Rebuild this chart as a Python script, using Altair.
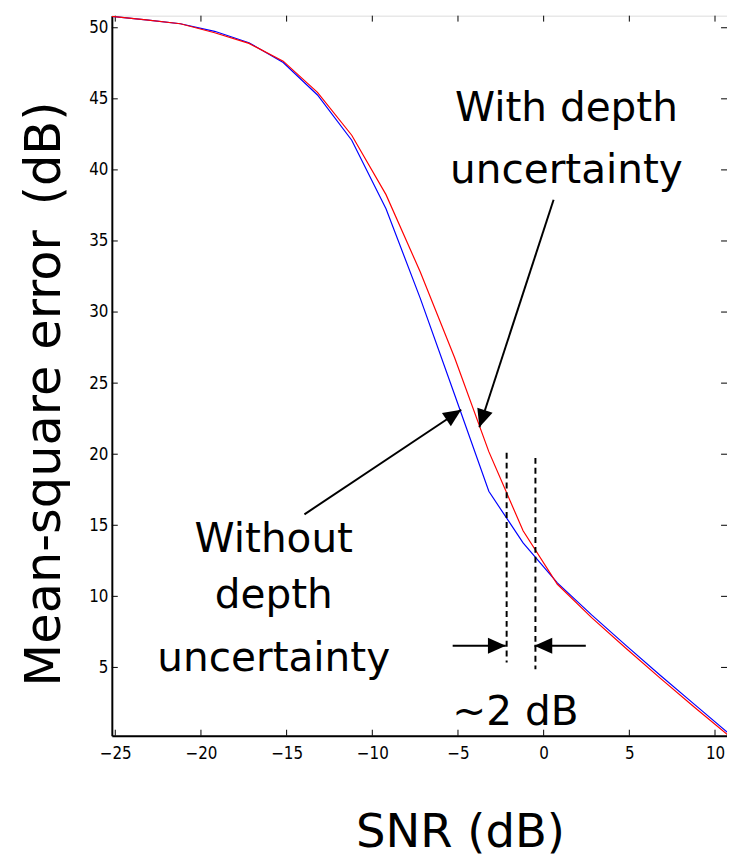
import altair as alt
import pandas as pd

# ---- data ----
snr_db = [-25.2, -23.2, -21.2, -19.2, -17.2, -15.2, -13.2, -11.2, -9.2, -7.2,
          -5.2, -3.2, -1.2, 0.8, 2.8, 4.8, 6.8, 8.8, 10.8]
mse_without = [50.8, 50.55, 50.28, 49.75, 48.95, 47.55, 45.27, 42.09, 37.27, 30.96,
               24.2, 17.39, 13.76, 10.95, 8.7, 6.55, 4.45, 2.4, 0.35]
mse_with = [50.8, 50.55, 50.28, 49.65, 48.9, 47.65, 45.46, 42.44, 38.26, 32.82,
            26.8, 20.18, 14.61, 10.85, 8.5, 6.35, 4.25, 2.2, 0.2]

x_ticks = [-25, -20, -15, -10, -5, 0, 5, 10]
y_ticks = [5, 10, 15, 20, 25, 30, 35, 40, 45, 50]
x_domain = [-25.2, 10.7]
y_domain = [0.2, 50.85]

label_text = ["With depth", "uncertainty", "Without", "depth", "uncertainty", "~2 dB"]
label_x = [1.33, 1.33, -15.75, -15.75, -15.75, -1.65]
label_y = [43.46, 39.08, 13.15, 9.17, 4.78, 0.96]

arrow_x_start = [0.58, -13.96, -5.31, 2.46]
arrow_y_start = [37.9, 15.77, 6.52, 6.52]
arrow_x_end = [-3.75, -4.81, -2.21, -0.54]
arrow_y_end = [21.9, 23.13, 6.52, 6.52]
arrow_angle = [198.1, 56.3, 90, 270]

dash_x = [-2.16, -0.48]
dash_y_top = [20.1, 19.74]
dash_y_bottom = [5.34, 4.87]

W, H = 622, 728
BIG_FONT = "DejaVu Sans"
TICK_FONT = "Liberation Sans Narrow, DejaVu Sans Condensed, Liberation Sans, Arial"

# ---- tables ----
df_without = pd.DataFrame({"x": snr_db, "y": mse_without})
df_with = pd.DataFrame({"x": snr_db, "y": mse_with})
df_labels = pd.DataFrame({"x": label_x, "y": label_y, "t": label_text})
df_arrows = pd.DataFrame({"x": arrow_x_start, "y": arrow_y_start,
                          "x2": arrow_x_end, "y2": arrow_y_end})
df_heads = pd.DataFrame({"x": arrow_x_end, "y": arrow_y_end, "a": arrow_angle})
df_dash = pd.DataFrame({"x": dash_x, "y": dash_y_top, "y2": dash_y_bottom})
df_xt = pd.DataFrame({"x": x_ticks})
df_yt = pd.DataFrame({"y": y_ticks})

xscale = alt.Scale(domain=x_domain, nice=False, zero=False)
yscale = alt.Scale(domain=y_domain, nice=False, zero=False)

x_axis = alt.Axis(values=x_ticks, format="d", title="SNR (dB)", grid=False, ticks=False,
                  domain=True, domainColor="black", domainWidth=2,
                  labelFont=TICK_FONT, labelFontSize=17, labelColor="black", labelPadding=10,
                  titleFont=BIG_FONT, titleFontSize=47, titleFontWeight="normal",
                  titleColor="black", titleX=352, titleY=112, titleBaseline="alphabetic",
                  titleAlign="center")
y_axis = alt.Axis(values=y_ticks, format="d", title="Mean-square error\u2002(dB)", grid=False,
                  ticks=False, domain=True, domainColor="black", domainWidth=2,
                  labelFont=TICK_FONT, labelFontSize=17, labelColor="black", labelPadding=4,
                  titleFont=BIG_FONT, titleFontSize=50, titleFontWeight="normal",
                  titleColor="black", titleAngle=270, titleX=-53, titleY=382,
                  titleBaseline="alphabetic", titleAlign="center")

X = alt.X("x:Q", scale=xscale, axis=x_axis)
Y = alt.Y("y:Q", scale=yscale, axis=y_axis)

blue = alt.Chart(df_without).mark_line(color="#0000ff", strokeWidth=1.2, clip=True).encode(x=X, y=Y)
red = alt.Chart(df_with).mark_line(color="#ff0000", strokeWidth=1.2, clip=True).encode(x=X, y=Y)

dashes = alt.Chart(df_dash).mark_rule(color="black", strokeWidth=2, strokeDash=[6, 4]).encode(
    x=X, y=Y, y2="y2:Q")

arrows = alt.Chart(df_arrows).mark_rule(color="black", strokeWidth=2).encode(
    x=X, y=Y, x2="x2:Q", y2="y2:Q")

heads = alt.Chart(df_heads).mark_point(
    shape="M0,0L-0.45,1L0.45,1Z", filled=True, color="black", opacity=1, size=1300,
    strokeWidth=0).encode(x=X, y=Y, angle=alt.Angle("a:Q", scale=None))

labels = alt.Chart(df_labels).mark_text(
    font=BIG_FONT, fontSize=41, color="black", align="center", baseline="alphabetic").encode(
    x=X, y=Y, text="t:N")

tick_left = alt.Chart(df_yt).mark_rule(color="black", strokeWidth=1).encode(
    y=Y, x=alt.value(0), x2=alt.value(6))
tick_right = alt.Chart(df_yt).mark_rule(color="black", strokeWidth=1).encode(
    y=Y, x=alt.value(W - 6), x2=alt.value(W))
tick_bottom = alt.Chart(df_xt).mark_rule(color="black", strokeWidth=1).encode(
    x=X, y=alt.value(H - 6), y2=alt.value(H))
tick_top = alt.Chart(df_xt).mark_rule(color="black", strokeWidth=1).encode(
    x=X, y=alt.value(0), y2=alt.value(6))

chart = alt.layer(
    tick_left, tick_right, tick_bottom, tick_top,
    blue, red, dashes, arrows, heads, labels
).properties(
    width=W, height=H,
    autosize=alt.AutoSizeParams(type="none"),
    padding={"left": 105, "top": 3, "right": 0, "bottom": 124},
).configure_view(stroke="black", strokeWidth=1.5).configure(background="white")

chart.save("out.html", embed_options={"renderer": "svg", "actions": False})
